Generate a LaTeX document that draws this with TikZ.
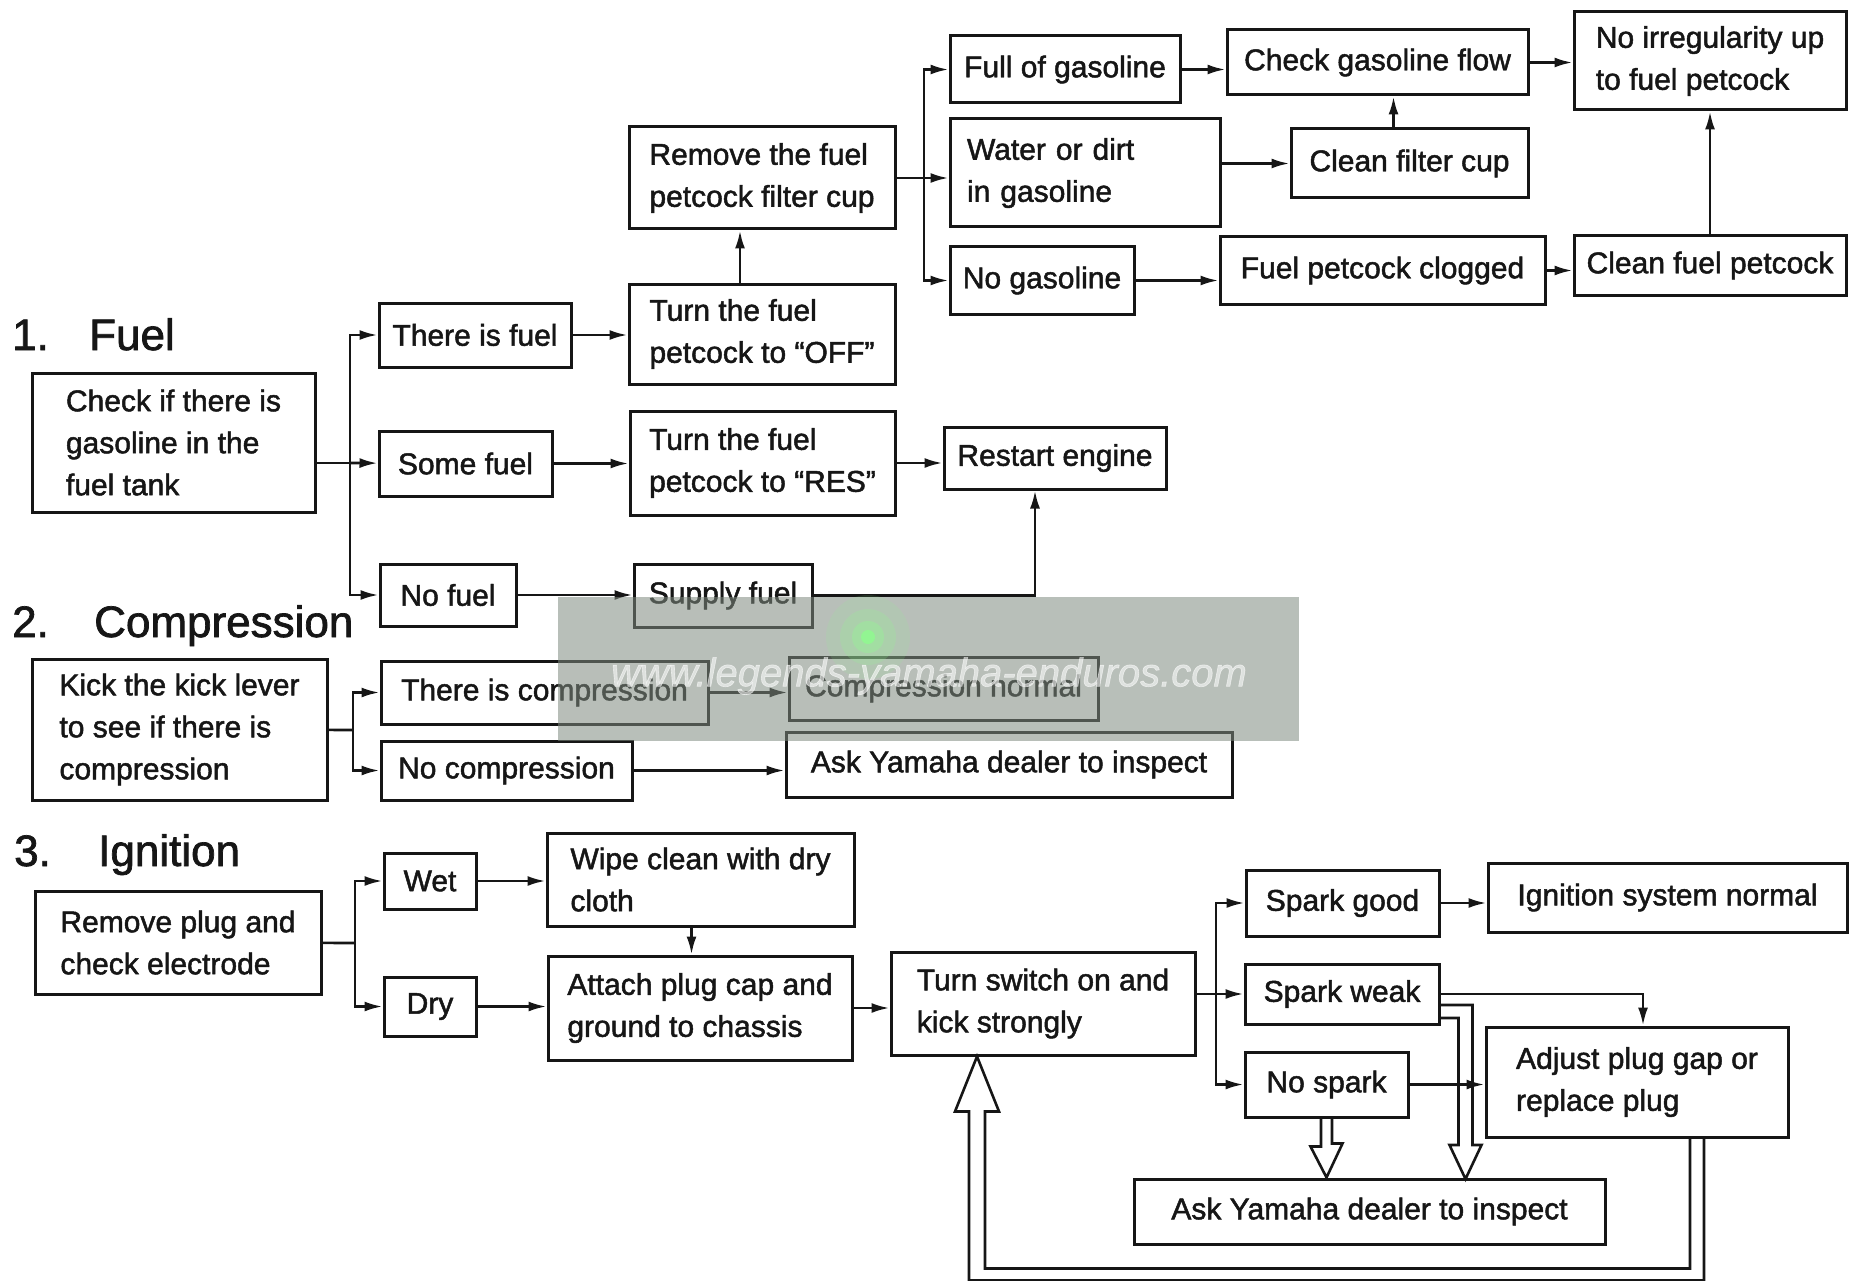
\documentclass[tikz,border=0pt]{standalone}
\usepackage{fontspec}
\setmainfont{Liberation Sans}[FakeBold=1.6]
\usetikzlibrary{arrows.meta}
\definecolor{trbInk}{HTML}{161616}
\definecolor{trbMark}{HTML}{7E8A7F}
\tikzset{
  every picture/.style={font=\fontsize{30}{42}\selectfont, text=trbInk},
  trb box/.style={draw=trbInk, line width=3pt, fill=white, align=left,
    inner xsep=4pt, inner ysep=3pt},
  trb line/.style={draw=trbInk, line width=2.6pt},
  trb arrow/.style={trb line, -{Latex[length=18pt,width=10pt]}},
  trb hollow/.style={draw=trbInk, line width=2.6pt, line join=miter},
  trb title/.style={anchor=base west, inner sep=0pt, font=\fontsize{44}{50}\selectfont}
}

\begin{document}
\begin{tikzpicture}[x=1pt,y=-1pt]
  \useasboundingbox (0,0) rectangle (1851,1281);

  % 1. fuel
  \node[trb title] (numA) at (12,350) {1.};
  \node[trb title] (hdA) at (89,350) {Fuel};
  \node[trb box, minimum width=283pt, minimum height=139pt] (chk) at (173.5,442.5) {Check if there is\\gasoline in the\\fuel tank};
  \node[trb box, minimum width=192pt, minimum height=64pt] (thereis) at (475,335) {There is fuel};
  \node[trb box, minimum width=173pt, minimum height=65pt] (some) at (465.5,463.5) {Some fuel};
  \node[trb box, minimum width=136pt, minimum height=62pt] (nofuel) at (448,595) {No fuel};
  \node[trb box, minimum width=266pt, minimum height=102pt] (remcup) at (762,178) {Remove the fuel\\petcock filter cup};
  \node[trb box, minimum width=266pt, minimum height=100pt] (off) at (762,334) {Turn the fuel\\petcock to ``OFF''};
  \node[trb box, minimum width=265pt, minimum height=104pt] (res) at (762.5,463) {Turn the fuel\\petcock to ``RES''};
  \node[trb box, minimum width=178pt, minimum height=63pt] (supply) at (723,595.5) {Supply fuel};
  \node[trb box, minimum width=222pt, minimum height=62pt] (restart) at (1055,458) {Restart engine};
  \node[trb box, minimum width=230pt, minimum height=67pt] (full) at (1065,69.5) {Full of gasoline};
  \node[trb box, minimum width=270pt, minimum height=108pt, text width=236pt] (water) at (1085,173) {Water or dirt\\in gasoline};
  \node[trb box, minimum width=184pt, minimum height=67pt] (nogas) at (1042,280.5) {No gasoline};
  \node[trb box, minimum width=301pt, minimum height=65pt] (flow) at (1377.5,62.5) {Check gasoline flow};
  \node[trb box, minimum width=237pt, minimum height=69pt] (cleancup) at (1409.5,163.5) {Clean filter cup};
  \node[trb box, minimum width=325pt, minimum height=67pt] (clogged) at (1382.5,270.5) {Fuel petcock clogged};
  \node[trb box, minimum width=272pt, minimum height=59pt] (cleancock) at (1710,265.5) {Clean fuel petcock};
  \node[trb box, minimum width=272pt, minimum height=98pt] (noirreg) at (1710,61) {No irregularity up\\to fuel petcock};

  \coordinate (fb) at (350,463);
  \draw[trb line] (chk.east |- fb) -- (fb);
  \draw[trb arrow] (fb) -- (some);
  \draw[trb arrow] (fb) |- (thereis);
  \draw[trb arrow] (fb) |- (nofuel);
  \draw[trb arrow] (thereis) -- (thereis -| off.west);
  \draw[trb arrow] (some) -- (some -| res.west);
  \draw[trb arrow] (nofuel) -- (nofuel -| supply.west);
  \draw[trb arrow] ([xshift=-22pt]off.north) -- ([xshift=-22pt]remcup.south);
  \draw[trb arrow] (res) -- (res -| restart.west);
  \draw[trb arrow] (supply) -| ([xshift=-20pt]restart.south);
  \coordinate (gb) at (924,178);
  \draw[trb line] (remcup) -- (gb);
  \draw[trb arrow] (gb) -- (gb -| water.west);
  \draw[trb arrow] (gb) |- (full);
  \draw[trb arrow] (gb) |- (nogas);
  \draw[trb arrow] (full) -- (full -| flow.west);
  \draw[trb arrow] (water.east |- cleancup) -- (cleancup);
  \draw[trb arrow] ([xshift=-16pt]cleancup.north) -- ([xshift=-16pt]cleancup.north |- flow.south);
  \draw[trb arrow] (nogas) -- (nogas -| clogged.west);
  \draw[trb arrow] (clogged) -- (clogged -| cleancock.west);
  \draw[trb arrow] (flow) -- (flow -| noirreg.west);
  \draw[trb arrow] (cleancock) -- (noirreg);

  % 2. compression
  \node[trb title] (numB) at (12,637) {2.};
  \node[trb title] (hdB) at (94,637) {Compression};
  \node[trb box, minimum width=295pt, minimum height=141pt] (kick) at (179.5,729.5) {Kick the kick lever\\to see if there is\\compression};
  \node[trb box, minimum width=327pt, minimum height=63pt] (iscomp) at (544.5,692.5) {There is compression};
  \node[trb box, minimum width=251pt, minimum height=59pt] (nocomp) at (506.5,770.5) {No compression};
  \node[trb box, minimum width=309pt, minimum height=63pt] (compok) at (943.5,688.5) {Compression normal};
  \node[trb box, minimum width=446pt, minimum height=65pt] (askcomp) at (1009,764.5) {Ask Yamaha dealer to inspect};

  \coordinate (cb) at (353,730);
  \draw[trb line] (kick) -- (cb);
  \draw[trb arrow] (cb) |- (iscomp);
  \draw[trb arrow] (cb) |- (nocomp);
  \draw[trb arrow] (iscomp) -- (iscomp -| compok.west);
  \draw[trb arrow] (nocomp) -- (nocomp -| askcomp.west);

  % 3. ignition
  \node[trb title] (numC) at (14,866) {3.};
  \node[trb title] (hdC) at (98,866) {Ignition};
  \node[trb box, minimum width=286pt, minimum height=103pt] (remplug) at (178,942.5) {Remove plug and\\check electrode};
  \node[trb box, minimum width=92pt, minimum height=56pt] (wet) at (430,881) {Wet};
  \node[trb box, minimum width=92pt, minimum height=59pt] (dry) at (430,1006.5) {Dry};
  \node[trb box, minimum width=307pt, minimum height=93pt] (wipe) at (700.5,879.5) {Wipe clean with dry\\cloth};
  \node[trb box, minimum width=304pt, minimum height=104pt] (attach) at (700,1008) {Attach plug cap and\\ground to chassis};
  \node[trb box, minimum width=304pt, minimum height=103pt] (turn) at (1043,1003.5) {Turn switch on and\\kick strongly};
  \node[trb box, minimum width=193pt, minimum height=66pt] (sgood) at (1342.5,903) {Spark good};
  \node[trb box, minimum width=359pt, minimum height=69pt] (ignok) at (1667.5,897.5) {Ignition system normal};
  \node[trb box, minimum width=194pt, minimum height=60pt] (sweak) at (1342,994) {Spark weak};
  \node[trb box, minimum width=163pt, minimum height=65pt] (nospark) at (1326.5,1084.5) {No spark};
  \node[trb box, minimum width=302pt, minimum height=110pt] (adjust) at (1637,1082) {Adjust plug gap or\\replace plug};
  \node[trb box, minimum width=471pt, minimum height=65pt] (askign) at (1369.5,1211.5) {Ask Yamaha dealer to inspect};

  \coordinate (ib) at (355,943);
  \draw[trb line] (remplug) -- (ib);
  \draw[trb arrow] (ib) |- (wet);
  \draw[trb arrow] (ib) |- (dry);
  \draw[trb arrow] (wet) -- (wet -| wipe.west);
  \draw[trb arrow] (dry) -- (dry -| attach.west);
  \draw[trb arrow] ([xshift=-9pt]wipe.south) -- ([xshift=-9pt]wipe.south |- attach.north);
  \draw[trb arrow] (attach) -- (attach -| turn.west);
  \coordinate (sb) at (1216,994);
  \draw[trb arrow] (turn.east |- sb) -- (sweak);
  \draw[trb arrow] (sb) |- (sgood);
  \draw[trb arrow] (sb) |- (nospark);
  \draw[trb arrow] (sgood) -- (sgood -| ignok.west);
  \draw[trb arrow] (sweak) -| ([xshift=6pt]adjust.north);
  \draw[trb arrow] (nospark) -- (nospark -| adjust.west);
  % open arrows down to the dealer and back to the kick
  \draw[trb hollow] ([xshift=-5.5pt]nospark.south) -- ++(0,28) -- ++(-10.5,0) -- (nospark.south |- askign.north)
    -- ++(16,-34) -- ++(-10.5,0) -- ([xshift=5.5pt]nospark.south);
  \draw[trb hollow] ([yshift=-11pt]sweak.east) -- ++(32,0) -- ++(0,140) -- ++(9,0) -- ++(-16,34)
    -- ++(-16,-34) -- ++(9,0) -- ++(0,-127) -- ++(-18,0);
  \draw[trb hollow] ([xshift=53pt]adjust.south) -- ++(0,130) -- ++(-705,0) -- ++(0,-157) -- ++(14,0)
    -- ([xshift=-66pt]turn.south) -- ++(-22,55) -- ++(14,0) -- ++(0,169) -- ++(735,0) -- ++(0,-142);

  % watermark band
  \fill[trbMark, opacity=0.55] (558,597) rectangle (1299,741);
  \foreach \r/\o in {42/0.12,28/0.18,16/0.3,7/0.7}
    \fill[green!45!white, opacity=\o] (868,637) circle[radius=\r pt];
  \node[font=\fontsize{40}{40}\selectfont\itshape, text=white, opacity=0.55] (wmark) at (929,676) {www.legends-yamaha-enduros.com};
\end{tikzpicture}
\end{document}
